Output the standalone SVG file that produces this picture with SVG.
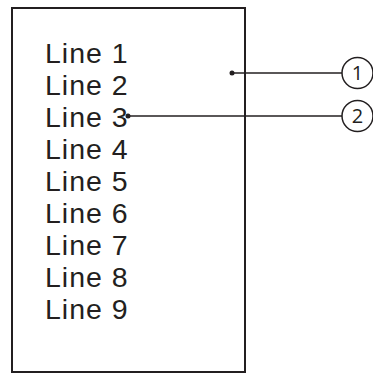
<svg xmlns="http://www.w3.org/2000/svg" width="373" height="373" viewBox="0 0 373 373">
<style>
.box{fill:#fff;stroke:#231f20;stroke-width:2}
.t{font-family:"Liberation Sans",Arial,sans-serif;font-size:28.5px;letter-spacing:1px;fill:#231f20}
.lead{stroke:#231f20;stroke-width:1.3;fill:none}
.c{fill:#fff;stroke:#231f20;stroke-width:1.5}
.n{font-family:"Open Sans",sans-serif;font-size:20px;fill:#231f20;text-anchor:middle}
</style>
<rect width="373" height="373" fill="#fff"/>
<g id="box">
<rect class="box" x="12" y="8" width="233" height="364"/>
<text class="t" x="45" y="63">Line 1</text>
<text class="t" x="45" y="95">Line 2</text>
<text class="t" x="45" y="127">Line 3</text>
<text class="t" x="45" y="159">Line 4</text>
<text class="t" x="45" y="191">Line 5</text>
<text class="t" x="45" y="223">Line 6</text>
<text class="t" x="45" y="255">Line 7</text>
<text class="t" x="45" y="287">Line 8</text>
<text class="t" x="45" y="319">Line 9</text>
</g>
<g id="connectors">
<line class="lead" x1="232" y1="73" x2="342" y2="73"/>
<circle cx="232" cy="73" r="2.5" fill="#231f20"/>
<line class="lead" x1="128" y1="116" x2="342" y2="116"/>
<circle cx="128" cy="116" r="2.5" fill="#231f20"/>
</g>
<g id="callout1">
<circle class="c" cx="357.5" cy="73" r="15.5"/>
<text class="n" x="357.5" y="80">1</text>
</g>
<g id="callout2">
<circle class="c" cx="357.5" cy="116" r="15.5"/>
<text class="n" x="357.5" y="123">2</text>
</g>
</svg>
